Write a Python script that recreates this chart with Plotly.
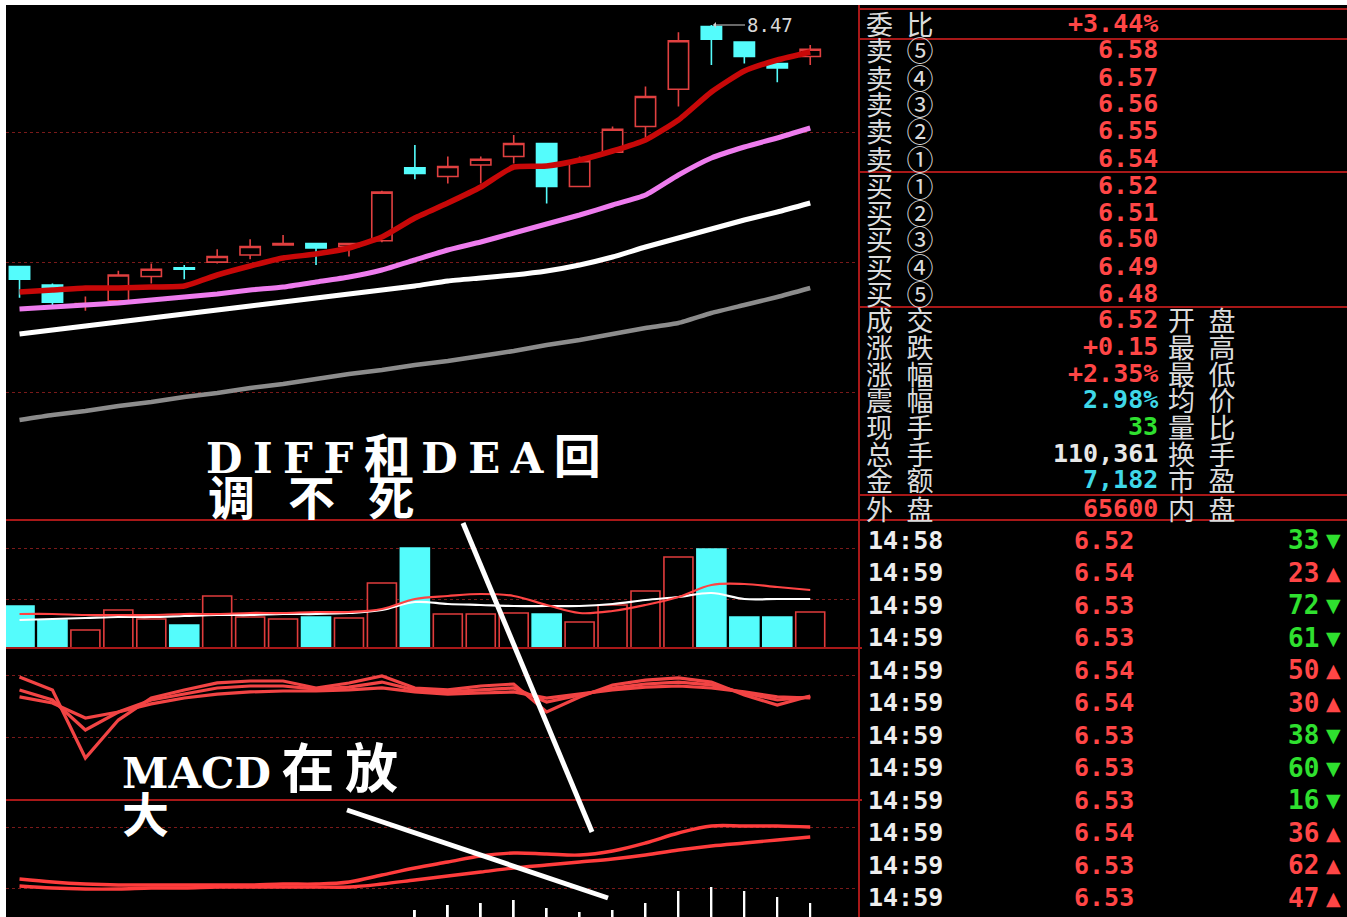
import plotly.graph_objects as go

W, H = 1347, 917

# ---- daily candles (25 sessions, left to right) ----
days = list(range(25))
opens = [6.78, 6.65, 6.51, 6.54, 6.71, 6.77, 6.81, 6.86, 6.93, 6.94, 6.92, 6.96, 7.47,
         7.41, 7.49, 7.55, 7.64, 7.34, 7.58, 7.76, 8.02, 8.46, 8.35, 8.20, 8.25]
highs = [6.78, 6.66, 6.57, 6.75, 6.80, 6.79, 6.90, 6.97, 7.00, 6.94, 6.94, 7.31, 7.63,
         7.55, 7.55, 7.70, 7.64, 7.55, 7.76, 8.04, 8.42, 8.47, 8.35, 8.20, 8.33]
lows = [6.56, 6.51, 6.47, 6.54, 6.66, 6.69, 6.80, 6.83, 6.93, 6.79, 6.85, 6.95, 7.39,
        7.36, 7.36, 7.50, 7.22, 7.34, 7.58, 7.68, 7.90, 8.19, 8.20, 8.07, 8.19]
closes = [6.69, 6.53, 6.52, 6.72, 6.76, 6.76, 6.85, 6.92, 6.94, 6.91, 6.94, 7.30, 7.43,
          7.48, 7.53, 7.64, 7.34, 7.52, 7.74, 7.97, 8.36, 8.37, 8.25, 8.17, 8.30]

ma5 = [6.601, 6.615, 6.629, 6.629, 6.636, 6.643, 6.720, 6.783, 6.839, 6.867, 6.909, 6.986, 7.119,
       7.224, 7.336, 7.476, 7.483, 7.525, 7.588, 7.665, 7.805, 8.001, 8.148, 8.225, 8.281]
ma10 = [6.482, 6.496, 6.510, 6.524, 6.545, 6.566, 6.587, 6.615, 6.636, 6.671, 6.706, 6.755, 6.825,
        6.895, 6.951, 7.014, 7.077, 7.140, 7.210, 7.280, 7.420, 7.539, 7.616, 7.679, 7.749]
ma20 = [6.307, 6.335, 6.363, 6.391, 6.419, 6.447, 6.475, 6.503, 6.531, 6.559, 6.587, 6.615, 6.643,
        6.678, 6.699, 6.720, 6.748, 6.790, 6.846, 6.916, 6.979, 7.042, 7.105, 7.161, 7.224]
ma60 = [5.705, 5.740, 5.768, 5.803, 5.831, 5.866, 5.894, 5.929, 5.957, 5.992, 6.027, 6.055, 6.090,
        6.118, 6.153, 6.188, 6.230, 6.265, 6.307, 6.349, 6.384, 6.454, 6.510, 6.566, 6.629]

# ---- volume ----
volume = [4200, 2800, 1800, 3800, 2900, 2300, 5200, 3100, 2900, 3100, 3000, 6500, 10000,
          3400, 3400, 3500, 3400, 2600, 4300, 5700, 9100, 9900, 3100, 3100, 3600]
vol_ma5 = [2800, 2900, 3000, 3100, 3100, 3200, 3300, 3300, 3400, 3400, 3500, 3800, 4600,
           4400, 4300, 4200, 4200, 4200, 4400, 4800, 5100, 5500, 4900, 4900, 4900]
vol_ma10 = [3400, 3400, 3300, 3300, 3300, 3400, 3400, 3500, 3500, 3600, 3600, 3900, 4900,
            5200, 5400, 5200, 4300, 3500, 3700, 4300, 5100, 6300, 6400, 6100, 5800]

# ---- KDJ ----
k_vals = [80.9, 72.4, 27.6, 52.6, 67.1, 72.4, 77.0, 78.3, 78.3, 73.7, 77.0, 81.6, 73.7,
          72.4, 75.0, 76.3, 57.9, 67.8, 75.7, 78.9, 80.3, 77.6, 69.1, 62.5, 68.4]
d_vals = [72.4, 65.8, 46.1, 57.9, 65.8, 69.7, 73.7, 75.0, 75.0, 73.0, 74.3, 77.6, 72.4,
          71.1, 72.4, 73.7, 64.5, 69.1, 73.7, 76.3, 77.6, 75.7, 70.4, 65.8, 67.8]
j_vals = [67.8, 63.8, 53.9, 57.9, 63.2, 67.1, 69.7, 71.1, 71.7, 71.7, 72.4, 73.7, 71.1,
          69.7, 70.4, 71.1, 67.1, 69.7, 72.4, 74.3, 75.0, 73.7, 71.1, 67.8, 67.1]

# ---- MACD ----
diff = [0.122, 0.116, 0.112, 0.110, 0.110, 0.110, 0.110, 0.110, 0.112, 0.112, 0.116, 0.130, 0.144,
        0.156, 0.168, 0.174, 0.172, 0.170, 0.178, 0.194, 0.214, 0.228, 0.228, 0.228, 0.226]
dea = [0.108, 0.104, 0.102, 0.102, 0.104, 0.104, 0.106, 0.106, 0.106, 0.106, 0.106, 0.112, 0.120,
       0.128, 0.136, 0.144, 0.150, 0.156, 0.162, 0.170, 0.180, 0.188, 0.194, 0.200, 0.206]
macd_hist = [0.028, 0.024, 0.020, 0.016, 0.012, 0.012, 0.008, 0.008, 0.012, 0.012, 0.020, 0.036, 0.060,
             0.070, 0.074, 0.080, 0.064, 0.056, 0.060, 0.074, 0.098, 0.106, 0.098, 0.086, 0.074]

# ---- quote panel ----
wei_bi = "+3.44%"
order_labels = ["卖⑤", "卖④", "卖③", "卖②", "卖①", "买①", "买②", "买③", "买④", "买⑤"]
order_prices = [6.58, 6.57, 6.56, 6.55, 6.54, 6.52, 6.51, 6.50, 6.49, 6.48]
quote_left = ["成交", "涨跌", "涨幅", "震幅", "现手", "总手", "金额", "外盘"]
quote_values = ["6.52", "+0.15", "+2.35%", "2.98%", "33", "110,361", "7,182", "65600"]
quote_kinds = ["up", "up", "up", "amp", "down", "plain", "amp", "up"]
quote_right = ["开盘", "最高", "最低", "均价", "量比", "换手", "市盈", "内盘"]
tick_times = ["14:58"] + ["14:59"] * 11
tick_prices = [6.52, 6.54, 6.53, 6.53, 6.54, 6.54, 6.53, 6.53, 6.53, 6.54, 6.53, 6.53]
tick_vols = [33, 23, 72, 61, 50, 30, 38, 60, 16, 36, 62, 47]
tick_dirs = ["down", "up", "down", "down", "up", "up", "down", "down", "down", "up", "up", "up"]

RED = "#ff4646"
CYAN = "#54fcfc"
GREEN = "#2fe02f"
LINE_RED = "#a81818"
GRID_RED = "#7a1a1a"
kind_color = {"up": RED, "down": GREEN, "amp": "#3fd8e8", "plain": "#e8e8e8"}


def px(x):
    return x / W


def py(y):
    return 1 - y / H


up = [c >= o for o, c in zip(opens, closes)]

fig = go.Figure()

# --- candles + moving averages ---
fig.add_trace(go.Candlestick(
    x=days, open=opens, high=highs, low=lows, close=closes,
    increasing=dict(line=dict(color="#e04040", width=1.6), fillcolor="#000000"),
    decreasing=dict(line=dict(color=CYAN, width=1.6), fillcolor=CYAN),
    whiskerwidth=0, xaxis="x", yaxis="y", showlegend=False,
))
for vals, color, width in [(ma60, "#8c8c8c", 4.5), (ma20, "#ffffff", 5),
                           (ma10, "#ee7cee", 5), (ma5, "#c80808", 5.5)]:
    fig.add_trace(go.Scatter(x=days, y=vals, mode="lines",
                             line=dict(color=color, width=width, shape="spline", smoothing=0.5),
                             xaxis="x", yaxis="y", showlegend=False))

# --- volume ---
fig.add_trace(go.Bar(
    x=days, y=volume, width=0.88,
    marker=dict(color=["#000000" if u else CYAN for u in up],
                line=dict(color=["#e03c3c" if u else CYAN for u in up], width=1.6)),
    xaxis="x2", yaxis="y2", showlegend=False,
))
fig.add_trace(go.Scatter(x=days, y=vol_ma5, mode="lines", line=dict(color="#ffffff", width=2.2, shape="spline"),
                         xaxis="x2", yaxis="y2", showlegend=False))
fig.add_trace(go.Scatter(x=days, y=vol_ma10, mode="lines", line=dict(color="#ff4444", width=2.2, shape="spline"),
                         xaxis="x2", yaxis="y2", showlegend=False))

# --- KDJ ---
for vals in (j_vals, d_vals, k_vals):
    fig.add_trace(go.Scatter(x=days, y=vals, mode="lines", line=dict(color="#f24444", width=3.2),
                             xaxis="x3", yaxis="y3", showlegend=False))

# --- MACD ---
fig.add_trace(go.Bar(x=days, y=macd_hist, width=0.06, marker=dict(color="#ffffff", line=dict(width=0)),
                     xaxis="x4", yaxis="y4", showlegend=False))
fig.add_trace(go.Scatter(x=days, y=diff, mode="lines", line=dict(color="#ff3c3c", width=3.4, shape="spline"),
                         xaxis="x4", yaxis="y4", showlegend=False))
fig.add_trace(go.Scatter(x=days, y=dea, mode="lines", line=dict(color="#ff3c3c", width=3.4, shape="spline"),
                         xaxis="x4", yaxis="y4", showlegend=False))

xdom = [px(6), px(858)]
xrange = [-0.41, 25.45]


def xax(anchor):
    return dict(domain=xdom, range=xrange, anchor=anchor, visible=False, showgrid=False,
                zeroline=False, fixedrange=True)


def yax(anchor, dom, rng, grid):
    return dict(domain=dom, range=rng, anchor=anchor, showticklabels=False, ticks="",
                zeroline=False, showline=False, tickmode="array", tickvals=grid,
                showgrid=True, gridcolor=GRID_RED, gridwidth=1, griddash="dot")


fig.update_layout(
    width=W, height=H, margin=dict(l=0, r=0, t=0, b=0),
    paper_bgcolor="#000000", plot_bgcolor="#000000",
    xaxis=dict(xax("y"), rangeslider=dict(visible=False)),
    xaxis2=xax("y2"), xaxis3=xax("y3"), xaxis4=xax("y4"),
    yaxis=yax("x", [py(520), py(5)], [5.005, 8.61], [5.901, 6.811, 7.721]),
    yaxis2=yax("x2", [py(648), py(520)], [0, 12800], [4900, 10000]),
    yaxis3=yax("x3", [py(800), py(648)], [0, 100], [41.4, 81.6]),
    yaxis4=yax("x4", [py(917), py(800)], [0.046, 0.28], [0.104, 0.226]),
    boxgap=0.12, showlegend=False,
)

# --- frame lines ---
shapes = []


def hline(y, x0, x1, width=2, color=LINE_RED):
    shapes.append(dict(type="line", xref="paper", yref="paper", x0=px(x0), x1=px(x1),
                       y0=py(y), y1=py(y), line=dict(color=color, width=width)))


hline(520, 6, W)
hline(648, 6, 862)
hline(800, 6, 862)
for y in (9, 39, 172, 307, 495):
    hline(y, 858, W)
shapes.append(dict(type="line", xref="paper", yref="paper", x0=px(859), x1=px(859),
                   y0=0, y1=py(5), line=dict(color=LINE_RED, width=2)))
# hand-drawn pointer strokes
for x0, y0, x1, y1 in [(463, 523, 592, 832), (347, 810, 608, 898)]:
    shapes.append(dict(type="line", xref="paper", yref="paper", x0=px(x0), y0=py(y0),
                       x1=px(x1), y1=py(y1), line=dict(color="#ffffff", width=5)))
# white screenshot border (top and left)
shapes.append(dict(type="rect", xref="paper", yref="paper", x0=0, x1=1, y0=py(5), y1=1,
                   fillcolor="#ffffff", line=dict(width=0)))
shapes.append(dict(type="rect", xref="paper", yref="paper", x0=0, x1=px(6), y0=0, y1=1,
                   fillcolor="#ffffff", line=dict(width=0)))
fig.update_layout(shapes=shapes)

anns = []
MONO = "DejaVu Sans Mono"
CJK = "Noto Sans CJK SC"


def label(x, y, text, color, size, family, anchor="left", weight="normal"):
    anns.append(dict(x=px(x), y=py(y), xref="paper", yref="paper", text=text, showarrow=False,
                     xanchor=anchor, yanchor="middle",
                     font=dict(color=color, size=size, family=family, weight=weight)))


def spread(word):
    return "\u2002".join(word)


# highest price marker
hi = max(highs)
anns.append(dict(x=days[highs.index(hi)] + 0.05, y=hi, xref="x", yref="y", text=f"{hi:.2f}",
                 showarrow=True, arrowhead=1, arrowsize=1, arrowwidth=1, arrowcolor="#d0d0d0",
                 ax=32, ay=0, xanchor="left", yanchor="middle",
                 font=dict(color="#d8d8d8", size=19, family=MONO)))

# commentary
SERIF = "DejaVu Serif, Noto Sans CJK SC"
S = "\u2005"
label(204, 456, S.join(["D", "I", "F", "F", "<span style='font-size:47px'>和</span>", "D", "E", "A",
                        "<span style='font-size:47px'>回</span>"]),
      "#ffffff", 42, SERIF, weight="bold")
label(206, 498, "调\u2002\u2009不\u2002\u2009死", "#ffffff", 47, SERIF, weight="bold")
label(120, 769, "MACD<span style='font-size:53px'>\u2009在\u2009放</span>", "#ffffff", 42, SERIF, weight="bold")
label(120, 815, "大", "#ffffff", 47, SERIF, weight="bold")

# order book
LBL = "#dcdcdc"
label(864, 23, spread("委比"), LBL, 27, CJK)
label(1160, 23, wei_bi, RED, 25, MONO, anchor="right", weight="bold")
for i, (lab, p) in enumerate(zip(order_labels, order_prices)):
    y = 50 + 27 * i
    label(864, y, spread(lab), LBL, 27, CJK)
    label(1160, y, f"{p:.2f}", RED, 25, MONO, anchor="right", weight="bold")

for i, (l, v, k, r) in enumerate(zip(quote_left, quote_values, quote_kinds, quote_right)):
    y = 320 + 26.6 * i + (2 if i == 7 else 0)
    label(864, y, spread(l), LBL, 27, CJK)
    label(1160, y, v, kind_color[k], 25, MONO, anchor="right", weight="bold")
    label(1166, y, spread(r), LBL, 27, CJK)

# tick-by-tick list
for i, (t, p, v, d) in enumerate(zip(tick_times, tick_prices, tick_vols, tick_dirs)):
    y = 540 + 32.5 * i
    c = GREEN if d == "down" else RED
    label(866, y, t, "#eeeeee", 25, MONO, weight="bold")
    label(1104, y, f"{p:.2f}", RED, 25, MONO, anchor="center", weight="bold")
    label(1321, y, str(v), c, 26, MONO, anchor="right", weight="bold")
    label(1324, y, "▼" if d == "down" else "▲", c, 19, "DejaVu Sans", weight="bold")

fig.update_layout(annotations=anns)

fig.write_html("out.html", config={"displayModeBar": False},
               post_script="document.body.style.margin='0px';")
